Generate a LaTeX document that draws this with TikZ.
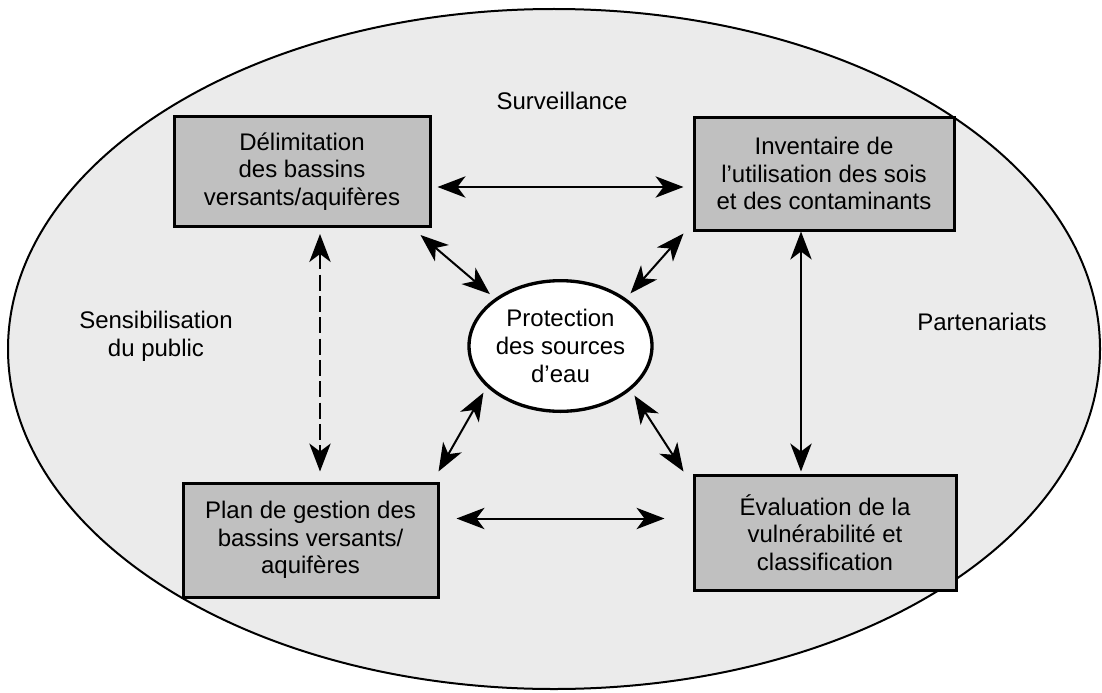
\documentclass[tikz,border=0pt]{standalone}
\usepackage{fontspec}
\setmainfont{Liberation Sans}
\usetikzlibrary{arrows.meta,calc,shapes.geometric}

\definecolor{bggray}{HTML}{EBEBEB}
\definecolor{boxgray}{HTML}{C0C0C0}

\tikzset{every picture/.style={line width=0.75pt}}
\tikzset{
  stagebox/.style={draw, line width=2.25pt, fill=boxgray, align=center, inner sep=0pt,
    font=\fontsize{18}{20.7}\selectfont},
  plaintext/.style={align=center, inner sep=0pt, font=\fontsize{18}{20.7}\selectfont},
  link/.style={line width=1.5pt,
    {Stealth[length=21pt,width=16pt,inset=6pt]}-{Stealth[length=21pt,width=16pt,inset=6pt]}},
}

\begin{document}
\begin{tikzpicture}[x=0.75pt,y=0.75pt,yscale=-1,xscale=1]
\useasboundingbox (0,0) rectangle (1102,692);

%Shape: Ellipse (background)
\draw [fill=bggray, line width=1.5pt] (554,349) ellipse (546 and 340);

%Shape: Rectangle
\node [stagebox, minimum width=192pt, minimum height=82.5pt] (delim) at (302,171.5)
  {Délimitation\\des bassins\\versants/aquifères};
%Shape: Rectangle
\node [stagebox, minimum width=195pt, minimum height=84.75pt] (invent) at (824,173.5)
  {Inventaire de\\l’utilisation des sois\\et des contaminants};
%Shape: Rectangle
\node [stagebox, minimum width=191.25pt, minimum height=85.5pt] (plan) at (310.5,540)
  {Plan de gestion des\\bassins versants/\\aquifères};
%Shape: Rectangle
\node [stagebox, minimum width=196.5pt, minimum height=86.25pt] (evalu) at (825,532.5)
  {Évaluation de la\\vulnérabilité et\\classification};
%Shape: Ellipse
\node [ellipse, draw, line width=2.5pt, fill=white, inner sep=0pt,
  minimum width=130.5pt, minimum height=98pt, align=center,
  font=\fontsize{18}{20.7}\selectfont] (prot) at (560.5,346)
  {Protection\\des sources\\d’eau};

% Text Node
\node [plaintext] (surv) at (562,101) {Surveillance};
% Text Node
\node [plaintext] (sensib) at (156,336) {Sensibilisation\\du public};
% Text Node
\node [plaintext] (parten) at (982,322) {Partenariats};

%Straight Lines [id:links]
\draw [link] ($(delim.east)+(6,15.5)$) -- ($(invent.west)+(-9,13.5)$);
\draw [link] ($(plan.east)+(17,-21.5)$) -- ($(evalu.west)+(-28,-14)$);
\draw [link, dash pattern=on 12pt off 4pt] ($(delim.south)+(18,6)$) -- ($(plan.north)+(9.5,-10)$);
\draw [link] ($(invent.south)+(-23,0)$) -- ($(evalu.north)+(-24,-2)$);
\draw [link, shorten >=5pt] ($(delim.south east)+(-11,7)$) -- (prot.144);
\draw [link, shorten >=5pt] ($(invent.south west)+(-9,2)$) -- (prot.36);
\draw [link, shorten >=5pt] ($(plan.north east)+(-1,-10)$) -- (prot.209);
\draw [link, shorten >=5pt] ($(evalu.north west)+(-9,-2)$) -- (prot.328);

\end{tikzpicture}
\end{document}
